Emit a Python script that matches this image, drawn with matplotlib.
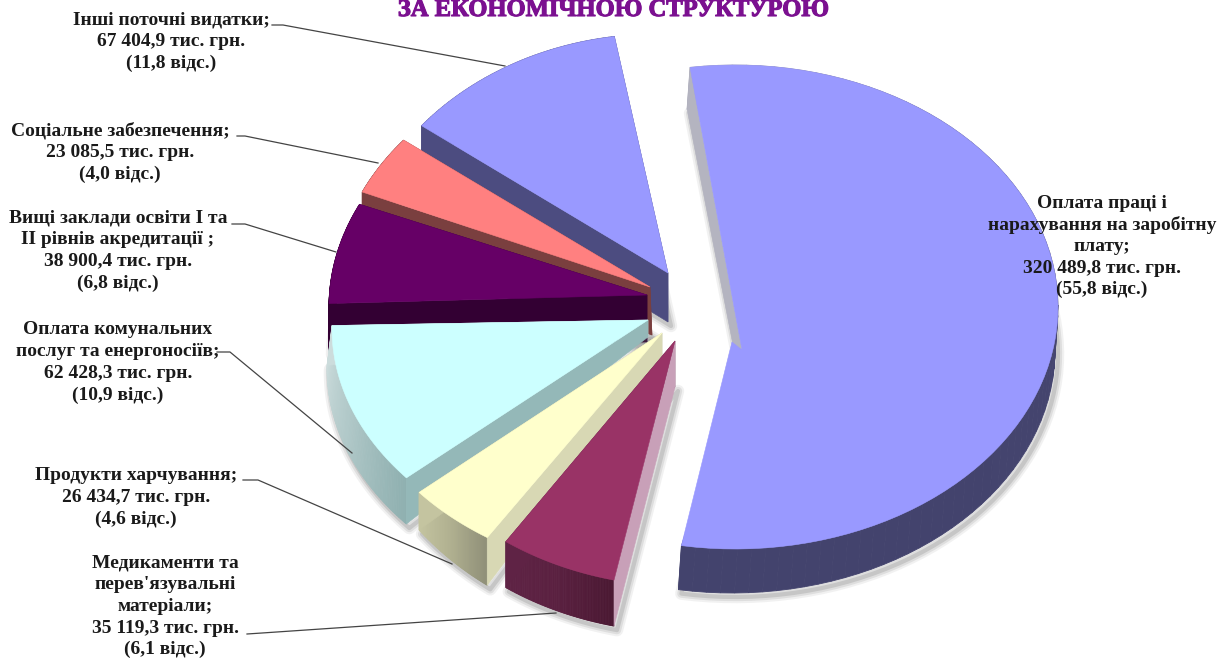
import matplotlib
matplotlib.use("Agg")
import matplotlib.pyplot as plt
import matplotlib.patheffects as pe
from matplotlib.colors import LinearSegmentedColormap
import numpy as np

plt.rcParams['font.family'] = ['Liberation Serif', 'DejaVu Serif']

# Дані діаграми (тис. грн.)
categories = ["Оплата праці і нарахування на заробітну плату",
              "Медикаменти та перев'язувальні матеріали",
              "Продукти харчування",
              "Оплата комунальних послуг та енергоносіїв",
              "Вищі заклади освіти І та ІІ рівнів акредитації",
              "Соціальне забезпечення",
              "Інші поточні видатки"]
values = [320489.8, 35119.3, 26434.7, 62428.3, 38900.4, 23085.5, 67404.9]
labels = ["Оплата праці і\nнарахування на заробітну\nплату;\n320 489,8 тис. грн.\n(55,8 відс.)",
          "Медикаменти та\nперев'язувальні\nматеріали;\n35 119,3 тис. грн.\n(6,1 відс.)",
          "Продукти харчування;\n26 434,7 тис. грн.\n(4,6 відс.)",
          "Оплата комунальних\nпослуг та енергоносіїв;\n62 428,3 тис. грн.\n(10,9 відс.)",
          "Вищі заклади освіти І та\nІІ рівнів акредитації ;\n38 900,4 тис. грн.\n(6,8 відс.)",
          "Соціальне забезпечення;\n23 085,5 тис. грн.\n(4,0 відс.)",
          "Інші поточні видатки;\n67 404,9 тис. грн.\n(11,8 відс.)"]
title = "ЗА ЕКОНОМІЧНОЮ СТРУКТУРОЮ"

# Оформлення: верх, бічна грань, зовнішня грань (градієнт)
top_colors = ["#9999ff", "#993366", "#ffffcc", "#ccffff", "#660066", "#ff8080", "#9999ff"]
cut_colors = ["#b4b4c0", "#c8a0b8", "#d8d8b4", "#94b8b8", "#330033", "#7a3f3f", "#4c4c80"]
rim_colors = [["#a8a8b8", "#5c5c84", "#45456f", "#43436d", "#43436d"],
              ["#4a1832", "#5a2040", "#5f2345"],
              ["#8f8f78", "#b0b090", "#c4c4a0"],
              ["#8fb0b0", "#b0c8c8", "#ccdcdc"],
              ["#330033", "#330033"],
              ["#7a3f3f", "#7a3f3f"],
              ["#4c4c80", "#4c4c80"]]
# cx, cy, rx, ry, tip_x, tip_y
top_geom = [(735, 307, 323, 242, 742, 350), (684, 339.5, 310, 247, 675, 341),
            (674, 351, 325, 228, 662, 333), (677, 329, 345, 240, 648, 320),
            (649, 307, 320, 241, 647, 295), (639, 296, 306, 244, 650, 287),
            (657, 288, 306, 254, 668, 273)]
bottom_geom = [(732, 350, 323, 243, 733, 345), (684, 385.5, 310, 247, 675, 387),
               (674, 357, 325, 279, 662, 355), (695, 369, 368, 250, 648, 337),
               (649, 354, 320, 241, 647, 342), (639, 342, 306, 244, 652, 335),
               (657, 334, 306, 254, 668, 322)]
start_angle = -8
end_trim = [3.5, 0, 0, 0, 0, 0, 0]

# Підписи: центр, y рядків, лінія-виноска
label_x = [1102, 165, 136, 118, 118, 120, 171]
label_y = [203, 563, 476, 330, 218, 131, 20]
line_step = 21.7
leaders = [None,
           [(247, 634), (262, 633), (556, 613)],
           [(243, 480), (258, 480), (452, 564)],
           [(217, 352), (230, 352), (352, 453)],
           [(232, 224), (245, 224), (336, 252)],
           [(237, 136), (245, 136), (378, 163)],
           [(272, 25), (283, 25), (505, 66)]]


def arc(geom, t1, t2, n=80):
    t = np.radians(np.linspace(t1, t2, n))
    return geom[0] + geom[2] * np.sin(t), geom[1] - geom[3] * np.cos(t)


fig = plt.figure(figsize=(12.21, 6.59), dpi=100)
ax = fig.add_axes([0, 0, 1, 1])
ax.set_xlim(0, 1221)
ax.set_ylim(659, 0)
ax.axis('off')

fractions = np.array(values) / sum(values)
edges = start_angle + np.concatenate([[0], np.cumsum(fractions)]) * 360

# Спочатку дальні сектори, потім ближні
for i in [0, 6, 5, 4, 3, 2, 1]:
    t1, t2 = edges[i], edges[i + 1] - end_trim[i]
    top, bot = top_geom[i], bottom_geom[i]
    xt, yt = arc(top, t1, t2)
    xb, yb = arc(bot, t1, t2)

    # тінь
    sx = np.concatenate([xb, [bot[4]]]) + 3
    sy = np.concatenate([yb, [bot[5]]]) + 4
    for lw, a in zip([9, 6, 3], [0.08, 0.12, 0.18]):
        ax.fill(sx, sy, facecolor='none', edgecolor=(0.35, 0.35, 0.35, a), linewidth=lw,
                joinstyle='round')

    # зовнішня грань
    cmap = LinearSegmentedColormap.from_list("rim", rim_colors[i])
    for k in range(len(xt) - 1):
        c = cmap(k / (len(xt) - 2))
        ax.fill([xt[k], xt[k + 1], xb[k + 1], xb[k]], [yt[k], yt[k + 1], yb[k + 1], yb[k]],
                color=c, linewidth=0.6)
    # бічні грані
    ax.fill([xt[-1], top[4], bot[4], xb[-1]], [yt[-1], top[5], bot[5], yb[-1]],
            color=rim_colors[i][-1], linewidth=0.4)
    ax.fill([xt[0], top[4], bot[4], xb[0]], [yt[0], top[5], bot[5], yb[0]],
            color=cut_colors[i], linewidth=0.4)
    # верх
    if i == 0:
        px = np.concatenate([xt, [732, top[4]]])
        py = np.concatenate([yt, [342, top[5]]])
    else:
        px = np.concatenate([xt, [top[4]]])
        py = np.concatenate([yt, [top[5]]])
    ax.fill(px, py, color=top_colors[i], linewidth=0.4)

for i, lab in enumerate(labels):
    for j, line in enumerate(lab.split("\n")):
        ax.text(label_x[i], label_y[i] + j * line_step, line, ha='center', va='center',
                fontsize=14, fontweight='bold', color='#1a1a1a')
    if leaders[i] is not None:
        lx, ly = zip(*leaders[i])
        ax.plot(lx, ly, color='#444444', linewidth=0.9)

ax.text(614, 9.5, title, ha='center', va='center', fontsize=17.7, fontweight='bold', color='#7b1090',
        path_effects=[pe.withStroke(linewidth=0.8, foreground='#7b1090')])

fig.savefig("out.png", dpi=100)
